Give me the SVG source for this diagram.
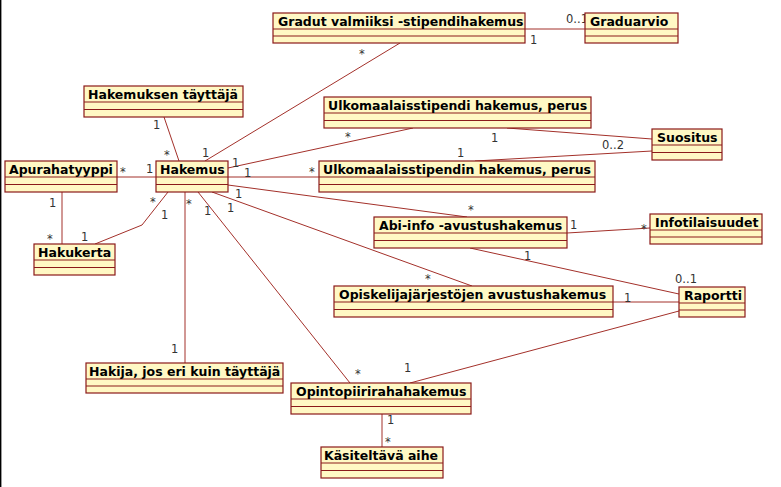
<svg xmlns="http://www.w3.org/2000/svg" width="781" height="487" viewBox="0 0 781 487">
<style>
.box{fill:#fff8c4;stroke:#8b1a1a;stroke-width:1.2}
.sep{stroke:#8b1a1a;stroke-width:1.2}
.name{font-family:"DejaVu Sans",Verdana,sans-serif;font-weight:bold;font-size:12.5px;fill:#000}
.c{stroke:#a3302a;stroke-width:1;fill:none}
.m{font-family:"DejaVu Sans",Verdana,sans-serif;font-size:11.5px;fill:#333}
</style>
<rect x="0" y="0" width="781" height="487" fill="#fff"/>
<rect x="0" y="0" width="1.4" height="487" fill="#000"/>
<g id="connectors">
<line class="c" x1="400" y1="43" x2="205" y2="161"/>
<line class="c" x1="525" y1="29" x2="585" y2="29"/>
<line class="c" x1="164" y1="117" x2="179" y2="161"/>
<line class="c" x1="117" y1="177" x2="156" y2="177"/>
<line class="c" x1="62" y1="192" x2="62" y2="244"/>
<polyline class="c" points="168,192 142,225 95,244"/>
<line class="c" x1="185" y1="192" x2="185" y2="363"/>
<line class="c" x1="198" y1="192" x2="350" y2="383"/>
<line class="c" x1="228" y1="168" x2="413" y2="128"/>
<line class="c" x1="228" y1="177" x2="319" y2="177"/>
<line class="c" x1="228" y1="185" x2="467" y2="217"/>
<line class="c" x1="212" y1="192" x2="472" y2="286"/>
<line class="c" x1="507" y1="128" x2="652" y2="139"/>
<line class="c" x1="475" y1="161" x2="652" y2="151"/>
<line class="c" x1="567" y1="233" x2="650" y2="228"/>
<line class="c" x1="470" y1="248" x2="679" y2="294"/>
<line class="c" x1="613" y1="302" x2="679" y2="302"/>
<line class="c" x1="410" y1="383" x2="679" y2="311"/>
<line class="c" x1="382" y1="414" x2="382" y2="447"/>
</g>
<g id="multiplicities">
<text class="m" x="566" y="23">0..1</text>
<text class="m" x="530" y="44">1</text>
<text class="m" x="359" y="58">*</text>
<text class="m" x="202" y="157">1</text>
<text class="m" x="153" y="129">1</text>
<text class="m" x="164" y="159">*</text>
<text class="m" x="120" y="176">*</text>
<text class="m" x="146" y="173">1</text>
<text class="m" x="49" y="207">1</text>
<text class="m" x="47" y="243">*</text>
<text class="m" x="150" y="206">*</text>
<text class="m" x="161" y="219">1</text>
<text class="m" x="81" y="241">1</text>
<text class="m" x="186" y="208">*</text>
<text class="m" x="171" y="353">1</text>
<text class="m" x="204" y="215">1</text>
<text class="m" x="355" y="378">*</text>
<text class="m" x="232" y="167">1</text>
<text class="m" x="345" y="141">*</text>
<text class="m" x="244" y="177">1</text>
<text class="m" x="309" y="176">*</text>
<text class="m" x="235" y="198">1</text>
<text class="m" x="468" y="214">*</text>
<text class="m" x="227" y="212">1</text>
<text class="m" x="425" y="283">*</text>
<text class="m" x="491" y="142">1</text>
<text class="m" x="457" y="157">1</text>
<text class="m" x="602" y="149">0..2</text>
<text class="m" x="570" y="229">1</text>
<text class="m" x="641" y="233">*</text>
<text class="m" x="524" y="260">1</text>
<text class="m" x="675" y="283">0..1</text>
<text class="m" x="624" y="302">1</text>
<text class="m" x="404" y="372">1</text>
<text class="m" x="387" y="424">1</text>
<text class="m" x="385" y="446">*</text>
</g>
<g id="gradut">
<rect class="box" x="273" y="13" width="252" height="30"/>
<line class="sep" x1="273" y1="29" x2="525" y2="29"/><line class="sep" x1="273" y1="36" x2="525" y2="36"/>
<text class="name" x="278" y="26">Gradut valmiiksi -stipendihakemus</text>
</g>
<g id="graduarvio">
<rect class="box" x="585" y="13" width="93" height="30"/>
<line class="sep" x1="585" y1="29" x2="678" y2="29"/><line class="sep" x1="585" y1="36" x2="678" y2="36"/>
<text class="name" x="590" y="26">Graduarvio</text>
</g>
<g id="hakemuksen-tayttaja">
<rect class="box" x="84" y="86" width="159" height="31"/>
<line class="sep" x1="84" y1="102" x2="243" y2="102"/><line class="sep" x1="84" y1="109.5" x2="243" y2="109.5"/>
<text class="name" x="88" y="99">Hakemuksen täyttäjä</text>
</g>
<g id="apurahatyyppi">
<rect class="box" x="5" y="161" width="112" height="31"/>
<line class="sep" x1="5" y1="177" x2="117" y2="177"/><line class="sep" x1="5" y1="184.5" x2="117" y2="184.5"/>
<text class="name" x="9" y="174">Apurahatyyppi</text>
</g>
<g id="hakemus">
<rect class="box" x="156" y="161" width="72" height="31"/>
<line class="sep" x1="156" y1="177" x2="228" y2="177"/><line class="sep" x1="156" y1="184.5" x2="228" y2="184.5"/>
<text class="name" x="160" y="174">Hakemus</text>
</g>
<g id="hakukerta">
<rect class="box" x="34" y="244" width="81" height="31"/>
<line class="sep" x1="34" y1="260" x2="115" y2="260"/><line class="sep" x1="34" y1="267.5" x2="115" y2="267.5"/>
<text class="name" x="38" y="257">Hakukerta</text>
</g>
<g id="ulkomaalaisstipendi">
<rect class="box" x="324" y="97" width="267" height="31"/>
<line class="sep" x1="324" y1="113" x2="591" y2="113"/><line class="sep" x1="324" y1="120.5" x2="591" y2="120.5"/>
<text class="name" x="328" y="110">Ulkomaalaisstipendi hakemus, perus</text>
</g>
<g id="ulkomaalaisstipendin">
<rect class="box" x="319" y="161" width="276" height="31"/>
<line class="sep" x1="319" y1="177" x2="595" y2="177"/><line class="sep" x1="319" y1="184.5" x2="595" y2="184.5"/>
<text class="name" x="323" y="174">Ulkomaalaisstipendin hakemus, perus</text>
</g>
<g id="abi-info">
<rect class="box" x="374" y="217" width="193" height="31"/>
<line class="sep" x1="374" y1="233" x2="567" y2="233"/><line class="sep" x1="374" y1="240.5" x2="567" y2="240.5"/>
<text class="name" x="379" y="230">Abi-info -avustushakemus</text>
</g>
<g id="suositus">
<rect class="box" x="652" y="129" width="70" height="31"/>
<line class="sep" x1="652" y1="145" x2="722" y2="145"/><line class="sep" x1="652" y1="152.5" x2="722" y2="152.5"/>
<text class="name" x="657" y="142">Suositus</text>
</g>
<g id="infotilaisuudet">
<rect class="box" x="650" y="214" width="112" height="30"/>
<line class="sep" x1="650" y1="230" x2="762" y2="230"/><line class="sep" x1="650" y1="237" x2="762" y2="237"/>
<text class="name" x="655" y="227">Infotilaisuudet</text>
</g>
<g id="raportti">
<rect class="box" x="679" y="287" width="66" height="30"/>
<line class="sep" x1="679" y1="303" x2="745" y2="303"/><line class="sep" x1="679" y1="310" x2="745" y2="310"/>
<text class="name" x="684" y="300">Raportti</text>
</g>
<g id="opiskelijajarjestojen">
<rect class="box" x="334" y="286" width="279" height="31"/>
<line class="sep" x1="334" y1="302" x2="613" y2="302"/><line class="sep" x1="334" y1="309.5" x2="613" y2="309.5"/>
<text class="name" x="339" y="299">Opiskelijajärjestöjen avustushakemus</text>
</g>
<g id="hakija">
<rect class="box" x="86" y="363" width="197" height="30"/>
<line class="sep" x1="86" y1="379" x2="283" y2="379"/><line class="sep" x1="86" y1="386" x2="283" y2="386"/>
<text class="name" x="89" y="376">Hakija, jos eri kuin täyttäjä</text>
</g>
<g id="opintopiirirahahakemus">
<rect class="box" x="291" y="383" width="180" height="31"/>
<line class="sep" x1="291" y1="399" x2="471" y2="399"/><line class="sep" x1="291" y1="406.5" x2="471" y2="406.5"/>
<text class="name" x="296" y="396">Opintopiirirahahakemus</text>
</g>
<g id="kasiteltava-aihe">
<rect class="box" x="321" y="447" width="122" height="31"/>
<line class="sep" x1="321" y1="463" x2="443" y2="463"/><line class="sep" x1="321" y1="470.5" x2="443" y2="470.5"/>
<text class="name" x="324" y="460">Käsiteltävä aihe</text>
</g>
</svg>
